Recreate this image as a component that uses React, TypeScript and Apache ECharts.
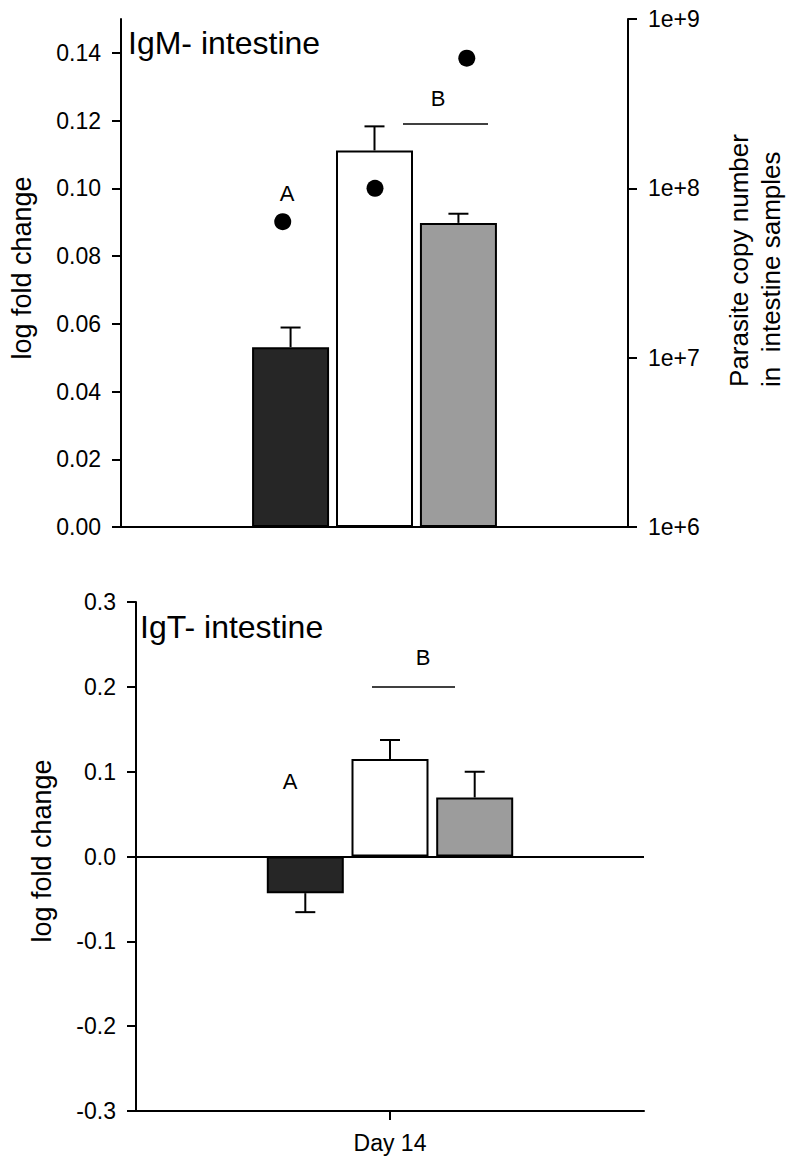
import React, { useEffect, useRef } from 'react';
import * as echarts from 'echarts';

const categories = ['Day 14'];
const groupNames = ['Group 1', 'Group 2', 'Group 3'];
const barColors = ['#262626', '#ffffff', '#9c9c9c'];

// IgM panel
const igmMeans = [0.0531, 0.1112, 0.0898];
const igmErrors = [0.0058, 0.0071, 0.0027];
const parasiteCopies = [6.35e7, 1.0e8, 5.87e8];
const parasitePos = [0.319, 0.501, 0.682];
const igmTicks = [0, 0.02, 0.04, 0.06, 0.08, 0.1, 0.12, 0.14];
const copyTicks = [1e6, 1e7, 1e8, 1e9];

// IgT panel
const igtMeans = [-0.0432, 0.1149, 0.0696];
const igtErrors = [0.0224, 0.0224, 0.0303];
const igtTicks = [-0.3, -0.2, -0.1, 0, 0.1, 0.2, 0.3];

const FONT = 'Liberation Sans, Arial, sans-serif';
const BAR_W = 77;
const GAP = 0.09;

function errRender(step: number) {
  return (params: any, api: any) => {
    const cat = api.value(0);
    const mean = api.value(1);
    const err = api.value(2);
    const g = api.value(3);
    const sign = mean >= 0 ? 1 : -1;
    const p0 = api.coord([cat, mean]);
    const p1 = api.coord([cat, mean + sign * err]);
    const x = p0[0] + (g - 1) * step;
    const st = { stroke: '#000', lineWidth: 2 };
    return {
      type: 'group',
      children: [
        { type: 'line', shape: { x1: x, y1: p0[1], x2: x, y2: p1[1] }, style: st },
        { type: 'line', shape: { x1: x - 10, y1: p1[1], x2: x + 10, y2: p1[1] }, style: st },
      ],
    };
  };
}

function txt(text: string, x: number, y: number, size: number, align = 'center', rot = 0) {
  return {
    type: 'text',
    x,
    y,
    rotation: rot,
    style: {
      text,
      fontSize: size,
      fontFamily: FONT,
      fill: '#000',
      align,
      verticalAlign: 'middle',
      textAlign: align,
      textVerticalAlign: 'middle',
    },
  };
}

export default function App() {
  const ref = useRef<HTMLDivElement>(null);
  useEffect(() => {
    if (!ref.current) return;
    const chart = echarts.init(ref.current, undefined, { renderer: 'svg' });
    const step = BAR_W * (1 + GAP);
    const axisLine = { show: true, lineStyle: { color: '#000', width: 2 } };
    const axisTick = { show: true, length: 9, lineStyle: { color: '#000', width: 2 } };
    const labelStyle = { color: '#000', fontSize: 23, fontFamily: FONT, margin: 20 };

    const option: any = {
      animation: false,
      backgroundColor: '#fff',
      grid: [
        { left: 121, top: 19, width: 507, height: 508 },
        { left: 136, top: 602, width: 508, height: 509 },
      ],
      xAxis: [
        {
          type: 'category', gridIndex: 0, data: categories,
          axisLine, axisTick: { show: false }, axisLabel: { show: false }, splitLine: { show: false },
        },
        { type: 'value', gridIndex: 0, min: 0, max: 1, show: false },
        {
          type: 'category', gridIndex: 1, data: categories,
          axisLine: { ...axisLine, onZero: false },
          axisTick: { ...axisTick, alignWithLabel: true },
          axisLabel: { ...labelStyle, margin: 20 },
          splitLine: { show: false },
        },
      ],
      yAxis: [
        {
          type: 'value', gridIndex: 0, min: 0, max: 0.15, position: 'left',
          axisLine, axisTick: { ...axisTick, customValues: igmTicks },
          axisLabel: { ...labelStyle, customValues: igmTicks, formatter: (v: number) => v.toFixed(2) },
          splitLine: { show: false },
        },
        {
          type: 'log', gridIndex: 0, min: 1e6, max: 1e9, logBase: 10, position: 'right',
          axisLine, axisTick: { ...axisTick, customValues: copyTicks },
          axisLabel: {
            ...labelStyle, customValues: copyTicks,
            formatter: (v: number) => '1e+' + Math.round(Math.log10(v)),
          },
          splitLine: { show: false },
        },
        {
          type: 'value', gridIndex: 1, min: -0.3, max: 0.3, position: 'left',
          axisLine, axisTick: { ...axisTick, customValues: igtTicks },
          axisLabel: { ...labelStyle, customValues: igtTicks, formatter: (v: number) => v.toFixed(1) },
          splitLine: { show: false },
        },
      ],
      series: [
        ...groupNames.map((name, i) => ({
          type: 'bar', name, xAxisIndex: 0, yAxisIndex: 0,
          data: [igmMeans[i]], barWidth: BAR_W, barGap: GAP * 100 + '%',
          itemStyle: { color: barColors[i], borderColor: '#000', borderWidth: 2 },
        })),
        {
          type: 'custom', xAxisIndex: 0, yAxisIndex: 0,
          data: igmMeans.map((m, i) => [0, m, igmErrors[i], i]),
          encode: { x: 0, y: 1 },
          renderItem: errRender(step),
          z: 5,
        },
        {
          type: 'scatter', xAxisIndex: 1, yAxisIndex: 1,
          data: parasiteCopies.map((c, i) => [parasitePos[i], c]),
          symbol: 'circle', symbolSize: 17,
          itemStyle: { color: '#000', opacity: 1 },
          z: 6,
        },
        ...groupNames.map((name, i) => ({
          type: 'bar', name: name + ' IgT', xAxisIndex: 2, yAxisIndex: 2,
          data: [igtMeans[i]], barWidth: BAR_W, barGap: '10%',
          itemStyle: { color: barColors[i], borderColor: '#000', borderWidth: 2 },
          ...(i === 0
            ? {
                markLine: {
                  silent: true, symbol: 'none', label: { show: false },
                  lineStyle: { color: '#000', width: 2, type: 'solid' },
                  data: [{ yAxis: 0 }],
                },
              }
            : {}),
        })),
        {
          type: 'custom', xAxisIndex: 2, yAxisIndex: 2,
          data: igtMeans.map((m, i) => [0, m, igtErrors[i], i]),
          encode: { x: 0, y: 1 },
          renderItem: errRender(BAR_W * 1.1),
          z: 5,
        },
      ],
      graphic: [
        txt('IgM- intestine', 128, 43, 32, 'left'),
        txt('IgT- intestine', 140, 627, 32, 'left'),
        txt('log fold change', 22, 268, 27, 'center', Math.PI / 2),
        txt('log fold change', 42, 851, 27, 'center', Math.PI / 2),
        txt('Parasite copy number', 739, 387, 26, 'left', Math.PI / 2),
        txt('in  intestine samples', 771, 387, 26, 'left', Math.PI / 2),
        txt('A', 287, 193, 22),
        txt('B', 438, 98, 22),
        txt('A', 290, 781, 22),
        txt('B', 423, 657, 22),
        { type: 'line', shape: { x1: 403, y1: 124, x2: 488, y2: 124 }, style: { stroke: '#000', lineWidth: 1.5 } },
        { type: 'line', shape: { x1: 372, y1: 687, x2: 455, y2: 687 }, style: { stroke: '#000', lineWidth: 1.5 } },
      ],
    };
    chart.setOption(option);
    return () => chart.dispose();
  }, []);
  return <div ref={ref} style={{ width: 792, height: 1164, position: 'absolute', left: 0, top: 0 }} />;
}
